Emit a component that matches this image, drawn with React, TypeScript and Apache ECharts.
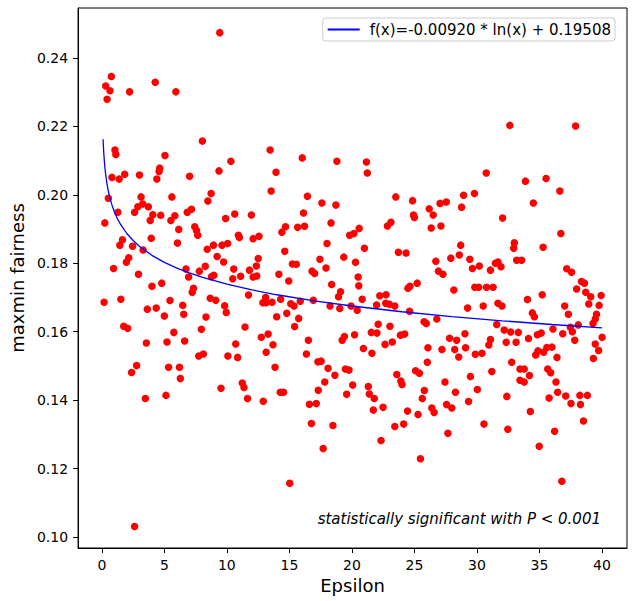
import React, { useEffect, useRef } from "react";
import * as echarts from "echarts";

// [epsilon, maxmin fairness]
const fairnessPoints: [number, number][] = [
  [0.76, 0.2346], [0.31, 0.2318], [0.65, 0.2304], [0.42, 0.2279], [2.22, 0.2301], [4.27, 0.2329], [5.92, 0.2301],
  [8.04, 0.2157], [1.05, 0.2131], [1.12, 0.2118], [5.05, 0.2115], [4.63, 0.2078], [4.58, 0.2068], [4.40, 0.2046],
  [0.81, 0.2051], [1.39, 0.2046], [1.83, 0.2060], [3.01, 0.2058], [7.02, 0.2054], [9.37, 0.2070], [8.74, 0.2004],
  [8.48, 0.1982], [5.60, 0.1994], [3.14, 0.1994], [0.52, 0.1990], [1.28, 0.1949], [0.24, 0.1918], [2.88, 0.1965],
  [2.62, 0.1949], [3.27, 0.1973], [3.72, 0.1965], [4.08, 0.1942], [3.87, 0.1925], [4.71, 0.1940], [5.84, 0.1939],
  [5.52, 0.1925], [6.83, 0.1949], [7.17, 0.1958], [9.90, 0.1931], [6.15, 0.1899], [7.43, 0.1907], [7.57, 0.1896],
  [7.67, 0.1882], [3.95, 0.1873], [6.05, 0.1859], [1.65, 0.1869], [1.44, 0.1853], [2.46, 0.1850], [3.30, 0.1839],
  [8.43, 0.1841], [8.93, 0.1853], [9.61, 0.1853], [10.06, 0.1858], [9.22, 0.1820], [9.74, 0.1804], [2.15, 0.1816],
  [1.96, 0.1803], [0.94, 0.1785], [2.93, 0.1768], [6.73, 0.1783], [6.94, 0.1760], [7.80, 0.1777], [8.27, 0.1791],
  [8.96, 0.1765], [8.77, 0.1761], [4.01, 0.1733], [4.79, 0.1742], [7.33, 0.1727], [7.23, 0.1715],
  [0.18, 0.1686], [1.52, 0.1695], [5.45, 0.1691], [8.67, 0.1698], [9.11, 0.1692], [9.82, 0.1676], [9.95, 0.1656],
  [3.64, 0.1666], [4.35, 0.1669], [6.47, 0.1677], [5.00, 0.1646], [6.55, 0.1651], [8.33, 0.1643], [1.75, 0.1616],
  [2.07, 0.1610], [5.76, 0.1598], [7.96, 0.1607], [3.56, 0.1567], [5.21, 0.1570], [6.62, 0.1573], [7.75, 0.1529],
  [8.12, 0.1535], [10.08, 0.1529], [2.78, 0.1501], [2.38, 0.1481], [5.34, 0.1496], [6.21, 0.1496], [6.28, 0.1463],
  [9.53, 0.1435], [3.48, 0.1405], [5.13, 0.1414], [2.62, 0.1031],
  [13.46, 0.2131], [10.32, 0.2098], [16.03, 0.2108], [18.80, 0.2098], [13.93, 0.2066], [13.54, 0.2011],
  [16.44, 0.1996], [17.60, 0.1976], [18.72, 0.1970], [16.13, 0.1947], [10.63, 0.1944], [11.96, 0.1941],
  [18.33, 0.1918], [14.69, 0.1907], [14.40, 0.1891], [15.66, 0.1905], [16.21, 0.1908], [20.58, 0.1902],
  [19.82, 0.1882], [20.16, 0.1887], [10.92, 0.1882], [11.00, 0.1875], [12.10, 0.1872], [12.57, 0.1879],
  [18.01, 0.1858], [14.63, 0.1835], [12.51, 0.1814], [17.44, 0.1812], [19.35, 0.1818], [20.29, 0.1803],
  [12.36, 0.1792], [15.24, 0.1798], [15.55, 0.1797], [10.55, 0.1783], [11.81, 0.1780], [17.93, 0.1786],
  [16.81, 0.1777], [17.02, 0.1770], [10.47, 0.1755], [11.10, 0.1762], [12.10, 0.1760], [12.39, 0.1763],
  [14.16, 0.1768], [14.95, 0.1748], [18.38, 0.1738], [20.50, 0.1760], [20.55, 0.1734], [19.09, 0.1717],
  [18.93, 0.1702], [11.73, 0.1707], [13.10, 0.1700], [14.30, 0.1695],
  [12.88, 0.1685], [13.14, 0.1685], [13.61, 0.1686], [15.11, 0.1682], [15.37, 0.1675], [15.87, 0.1689],
  [16.91, 0.1692], [18.25, 0.1675], [19.03, 0.1668], [19.93, 0.1675], [20.42, 0.1663], [13.98, 0.1644],
  [14.79, 0.1654], [15.74, 0.1639], [11.45, 0.1614], [15.42, 0.1615], [12.75, 0.1584], [13.30, 0.1593],
  [13.69, 0.1562], [16.52, 0.1575], [19.40, 0.1586], [19.22, 0.1575], [20.21, 0.1591], [10.71, 0.1564],
  [13.14, 0.1540], [16.36, 0.1535], [10.86, 0.1525], [17.28, 0.1512], [17.54, 0.1514], [13.85, 0.1496],
  [18.09, 0.1493], [19.48, 0.1491], [19.77, 0.1488], [18.64, 0.1473], [17.83, 0.1453], [11.23, 0.1450],
  [11.37, 0.1437], [20.06, 0.1444], [17.31, 0.1429], [14.27, 0.1423], [14.53, 0.1423], [19.58, 0.1417],
  [11.65, 0.1405], [12.91, 0.1397], [16.60, 0.1388], [17.15, 0.1390], [16.76, 0.1332], [18.48, 0.1326],
  [17.70, 0.1259], [15.03, 0.1157],
  [21.16, 0.2096], [21.23, 0.2064], [30.74, 0.2064], [23.51, 0.1994], [24.85, 0.1983], [28.93, 0.1999],
  [29.80, 0.2004], [26.18, 0.1959], [26.50, 0.1941], [27.05, 0.1975], [27.55, 0.1979], [28.77, 0.1964],
  [24.93, 0.1941], [25.00, 0.1934], [23.12, 0.1920], [22.84, 0.1909], [26.34, 0.1903], [27.12, 0.1909],
  [21.00, 0.1844], [23.72, 0.1832], [24.33, 0.1830], [28.70, 0.1853], [28.59, 0.1824], [27.91, 0.1815],
  [29.43, 0.1812], [26.71, 0.1806], [29.64, 0.1785], [30.19, 0.1792], [31.08, 0.1780], [26.92, 0.1777],
  [27.28, 0.1768], [24.64, 0.1733], [24.48, 0.1727], [25.22, 0.1742], [28.15, 0.1722], [29.83, 0.1730],
  [30.14, 0.1730], [30.77, 0.1730], [31.29, 0.1730], [22.23, 0.1705], [22.73, 0.1708], [20.82, 0.1695],
  [21.97, 0.1678], [22.70, 0.1683], [22.99, 0.1680], [23.43, 0.1675], [24.61, 0.1660], [29.25, 0.1669],
  [30.50, 0.1675], [25.77, 0.1629], [25.95, 0.1624], [26.79, 0.1637], [22.10, 0.1622], [23.04, 0.1616],
  [21.55, 0.1598], [22.00, 0.1596], [23.88, 0.1590], [24.22, 0.1593], [27.81, 0.1581], [28.38, 0.1575],
  [29.04, 0.1594], [31.08, 0.1577], [30.95, 0.1561], [23.23, 0.1570], [22.65, 0.1563], [20.92, 0.1551],
  [21.60, 0.1537], [26.08, 0.1553], [27.20, 0.1548], [28.22, 0.1548], [29.09, 0.1553], [28.54, 0.1526],
  [29.87, 0.1534], [30.40, 0.1537], [26.03, 0.1511], [25.09, 0.1486], [25.40, 0.1479], [23.59, 0.1475],
  [23.91, 0.1456], [24.01, 0.1446], [29.48, 0.1469], [31.19, 0.1484], [27.44, 0.1453], [21.31, 0.1440],
  [25.79, 0.1428], [30.03, 0.1431], [28.28, 0.1423], [21.39, 0.1418], [21.79, 0.1405], [25.63, 0.1405],
  [29.33, 0.1396], [27.57, 0.1387], [27.99, 0.1377], [22.49, 0.1379], [21.71, 0.1371], [24.45, 0.1368],
  [26.39, 0.1377], [26.58, 0.1364], [25.29, 0.1358], [23.43, 0.1323], [24.14, 0.1330], [30.56, 0.1330],
  [27.68, 0.1303], [22.33, 0.1282], [25.48, 0.1229],
  [32.63, 0.2203], [37.89, 0.2201], [33.88, 0.2040], [35.53, 0.2048], [36.63, 0.2011], [34.51, 0.1976],
  [32.05, 0.1932], [36.71, 0.1887], [32.99, 0.1860], [32.94, 0.1844], [35.29, 0.1847], [31.68, 0.1804],
  [31.48, 0.1800], [31.92, 0.1790], [33.18, 0.1809], [33.57, 0.1809], [37.18, 0.1784], [37.57, 0.1774],
  [38.36, 0.1747], [38.60, 0.1742], [37.97, 0.1725], [38.70, 0.1715], [39.10, 0.1702], [39.93, 0.1706],
  [35.22, 0.1708], [34.04, 0.1694],
  [31.68, 0.1683], [32.00, 0.1675], [38.94, 0.1681], [37.02, 0.1675], [37.31, 0.1651], [39.77, 0.1677],
  [34.43, 0.1655], [34.59, 0.1644], [39.56, 0.1651], [39.46, 0.1637], [39.28, 0.1624], [31.58, 0.1621],
  [37.47, 0.1613], [38.10, 0.1620], [37.63, 0.1600], [32.18, 0.1605], [32.70, 0.1599], [33.31, 0.1598],
  [36.08, 0.1608], [35.14, 0.1596], [34.83, 0.1591], [36.86, 0.1594], [40.01, 0.1584], [34.12, 0.1580],
  [37.82, 0.1575], [32.34, 0.1569], [33.13, 0.1569], [39.46, 0.1564], [39.73, 0.1545], [35.59, 0.1554],
  [36.00, 0.1555], [34.88, 0.1544], [34.70, 0.1532], [35.33, 0.1540], [36.40, 0.1525], [39.31, 0.1522],
  [32.78, 0.1511], [33.44, 0.1491], [33.78, 0.1491], [35.66, 0.1491], [35.90, 0.1480], [34.20, 0.1472],
  [33.44, 0.1458], [33.78, 0.1453], [36.32, 0.1453], [36.45, 0.1423], [35.77, 0.1406], [37.10, 0.1412],
  [38.23, 0.1414], [38.83, 0.1414], [37.52, 0.1390], [38.28, 0.1387], [32.39, 0.1411], [34.27, 0.1367],
  [38.52, 0.1339], [32.47, 0.1315], [36.21, 0.1309], [34.98, 0.1265], [36.79, 0.1163],
  [9.43, 0.2474],
];

// fitted curve from the legend: f(x) = A * ln(x) + B
const fitA = -0.0092;
const fitB = 0.19508;
const fitEpsilon = [0.1, 0.12, 0.15, 0.2, 0.25, 0.3, 0.4, 0.5, 0.6, 0.8, 1, 1.25, 1.5, 2, 2.5, 3, 4, 5, 6, 7, 8, 10, 12, 14, 17, 20, 24, 28, 32, 36, 40];
const fitName = "f(x)=-0.00920 * ln(x) + 0.19508";

const xTicks = [0, 5, 10, 15, 20, 25, 30, 35, 40];
const yTicks = [0.1, 0.12, 0.14, 0.16, 0.18, 0.2, 0.22, 0.24];
const xRange = [-1.9, 42.0];
const yRange = [0.0968, 0.2546];

const xTitle = "Epsilon";
const yTitle = "maxmin fairness";
const annotation = "statistically significant with P < 0.001";

const FONT = "DejaVu Sans";

export default function App() {
  const ref = useRef<HTMLDivElement>(null);
  useEffect(() => {
    document.body.style.margin = "0";
    if (!ref.current) return;
    const chart = echarts.init(ref.current, null, { renderer: "svg" });
    const fitData = fitEpsilon.map((x) => [x, fitA * Math.log(x) + fitB]);
    chart.setOption({
      animation: false,
      backgroundColor: "#ffffff",
      textStyle: { fontFamily: FONT },
      grid: {
        left: 68,
        right: 5,
        top: 8,
        bottom: 53,
        show: true,
        borderColor: "#000",
        borderWidth: 1,
        backgroundColor: "transparent",
      },
      legend: {
        data: [{ name: fitName, icon: "rect" }],
        right: 17,
        top: 18,
        itemWidth: 32,
        itemHeight: 2,
        padding: [4, 4, 4, 5],
        borderColor: "#cccccc",
        borderWidth: 1,
        borderRadius: 3,
        backgroundColor: "rgba(255,255,255,0.8)",
        textStyle: { fontSize: 15, color: "#000", fontFamily: FONT, padding: [0, 0, 0, 5] },
      },
      xAxis: {
        type: "value",
        min: xRange[0],
        max: xRange[1],
        name: xTitle,
        nameLocation: "middle",
        nameGap: 26,
        nameTextStyle: { fontSize: 18, color: "#000", fontFamily: FONT },
        axisLine: { show: true, onZero: false, lineStyle: { color: "#000" } },
        axisTick: { show: true, customValues: xTicks, length: 5, lineStyle: { color: "#000" } },
        axisLabel: { customValues: xTicks, fontSize: 14, color: "#000", margin: 10, fontFamily: FONT },
        splitLine: { show: false },
      },
      yAxis: {
        type: "value",
        min: yRange[0],
        max: yRange[1],
        name: yTitle,
        nameLocation: "middle",
        nameGap: 45,
        nameTextStyle: { fontSize: 18, color: "#000", fontFamily: FONT },
        axisLine: { show: true, onZero: false, lineStyle: { color: "#000" } },
        axisTick: { show: true, customValues: yTicks, length: 5, lineStyle: { color: "#000" } },
        axisLabel: {
          customValues: yTicks,
          fontSize: 14,
          color: "#000",
          margin: 10,
          fontFamily: FONT,
          formatter: (v: number) => v.toFixed(2),
        },
        splitLine: { show: false },
      },
      graphic: [
        {
          type: "text",
          right: 31,
          top: 511,
          style: {
            text: annotation,
            fontSize: 15,
            fontStyle: "italic",
            fontFamily: FONT,
            fill: "#000",
          },
        },
      ],
      series: [
        {
          type: "scatter",
          name: "data",
          data: fairnessPoints,
          symbol: "circle",
          symbolSize: 7.5,
          itemStyle: { color: "#ff0000", opacity: 1 },
          z: 2,
        },
        {
          type: "line",
          name: fitName,
          data: fitData,
          showSymbol: false,
          symbol: "none",
          smooth: false,
          lineStyle: { color: "#0000ff", width: 1.3 },
          itemStyle: { color: "#0000ff" },
          z: 3,
        },
      ],
    });
    return () => chart.dispose();
  }, []);
  return <div ref={ref} style={{ width: 632, height: 601 }} />;
}
